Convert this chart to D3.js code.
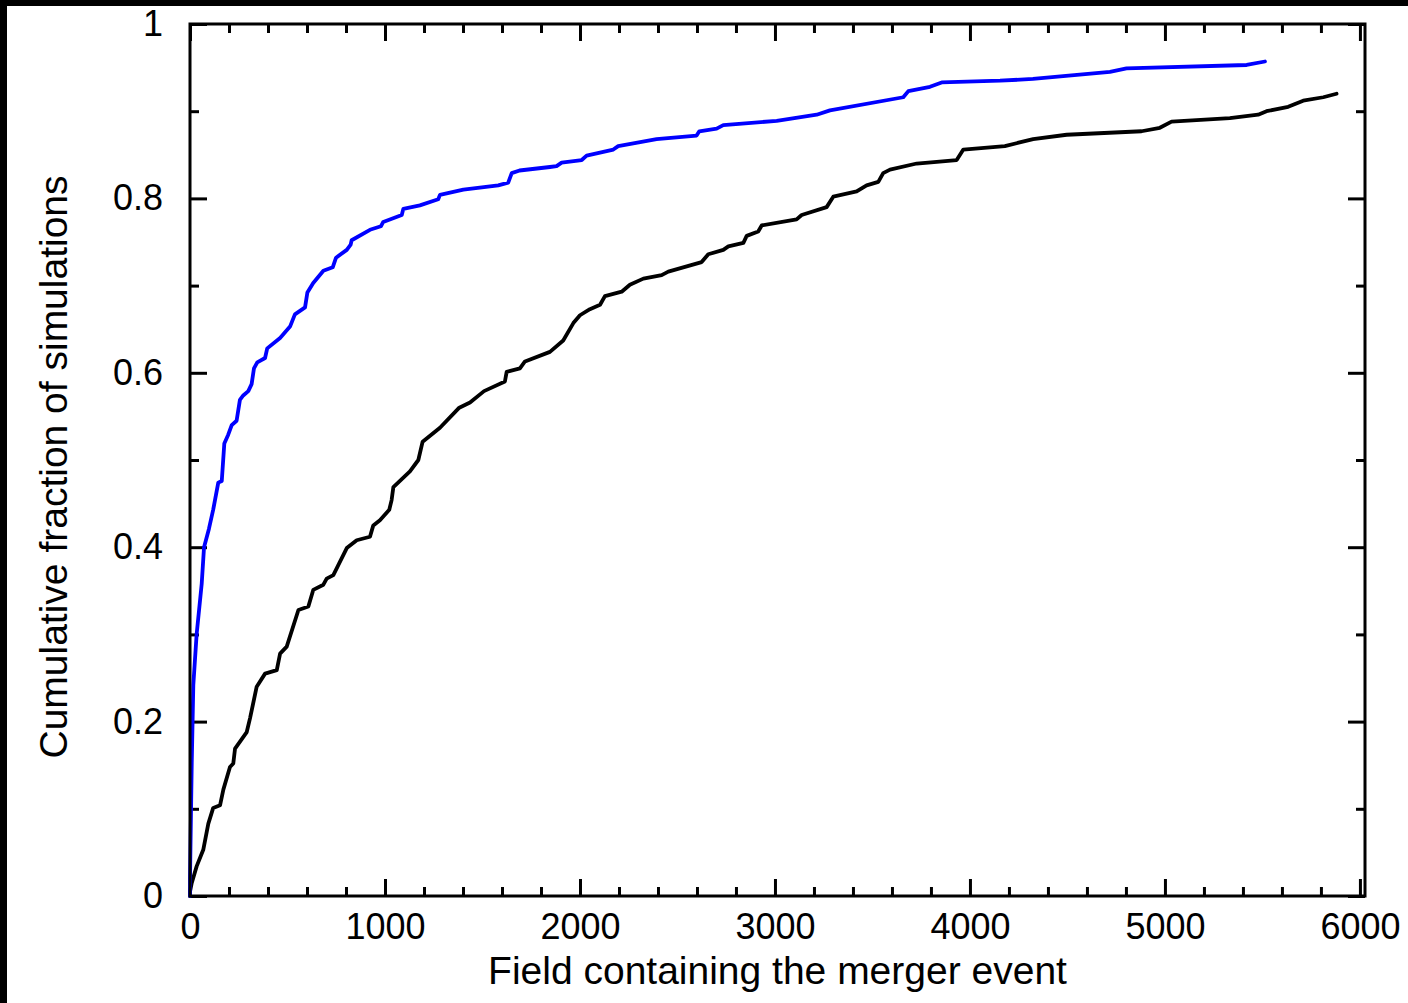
<!DOCTYPE html>
<html>
<head>
<meta charset="utf-8">
<script src="https://cdn.jsdelivr.net/npm/d3@7"></script>
<style>
  html, body { margin: 0; padding: 0; background: #fff; }
  svg { display: block; }
  text { font-family: "Liberation Sans", Arial, Helvetica, sans-serif; fill: #000; }
</style>
</head>
<body>
<svg id="chart" width="1408" height="1003"></svg>
<script>
// ---- data ----
const blueX = [0, 0, 9, 17, 34, 60, 72, 97, 119, 145, 163, 176, 196, 214, 239, 256, 273, 299, 316, 328, 345, 385, 396, 462, 513, 538, 590, 602, 632, 684, 732, 749, 804, 824, 829, 923, 979, 991, 1086, 1094, 1179, 1273, 1282, 1402, 1581, 1632, 1650, 1690, 1846, 1880, 1906, 2009, 2034, 2171, 2196, 2393, 2598, 2612, 2701, 2735, 3009, 3214, 3282, 3658, 3684, 3795, 3855, 4154, 4323, 4718, 4803, 5419, 5513];
const blueY = [0, 0.02, 0.153, 0.242, 0.300, 0.358, 0.400, 0.421, 0.443, 0.474, 0.476, 0.519, 0.529, 0.540, 0.545, 0.569, 0.574, 0.579, 0.587, 0.605, 0.612, 0.617, 0.628, 0.640, 0.653, 0.667, 0.675, 0.692, 0.703, 0.717, 0.721, 0.732, 0.741, 0.747, 0.752, 0.764, 0.768, 0.773, 0.781, 0.788, 0.792, 0.799, 0.804, 0.810, 0.815, 0.818, 0.829, 0.832, 0.836, 0.837, 0.841, 0.844, 0.849, 0.856, 0.860, 0.868, 0.872, 0.877, 0.880, 0.884, 0.889, 0.896, 0.901, 0.916, 0.923, 0.928, 0.933, 0.935, 0.937, 0.945, 0.949, 0.953, 0.957];

const blackX = [0, 0, 9, 34, 68, 94, 119, 154, 171, 205, 222, 231, 291, 308, 342, 385, 445, 462, 496, 556, 607, 632, 684, 701, 735, 804, 855, 923, 940, 974, 1022, 1034, 1043, 1128, 1171, 1193, 1282, 1381, 1436, 1508, 1615, 1624, 1692, 1718, 1846, 1914, 1966, 2000, 2051, 2103, 2128, 2214, 2256, 2325, 2419, 2453, 2624, 2658, 2735, 2761, 2838, 2855, 2914, 2932, 3111, 3137, 3265, 3299, 3419, 3470, 3530, 3555, 3590, 3727, 3932, 3966, 4179, 4324, 4496, 4880, 4974, 5034, 5333, 5478, 5521, 5632, 5709, 5812, 5880];
const blackY = [0, 0.005, 0.015, 0.034, 0.053, 0.083, 0.101, 0.104, 0.122, 0.148, 0.152, 0.169, 0.188, 0.204, 0.240, 0.255, 0.259, 0.278, 0.286, 0.328, 0.332, 0.351, 0.357, 0.364, 0.368, 0.399, 0.408, 0.412, 0.425, 0.431, 0.443, 0.454, 0.469, 0.487, 0.500, 0.521, 0.537, 0.560, 0.566, 0.579, 0.590, 0.601, 0.605, 0.613, 0.624, 0.637, 0.657, 0.666, 0.673, 0.678, 0.688, 0.693, 0.701, 0.708, 0.712, 0.716, 0.727, 0.736, 0.741, 0.745, 0.749, 0.757, 0.762, 0.769, 0.776, 0.781, 0.790, 0.802, 0.808, 0.815, 0.819, 0.829, 0.833, 0.840, 0.844, 0.856, 0.860, 0.868, 0.873, 0.877, 0.881, 0.888, 0.892, 0.896, 0.900, 0.905, 0.912, 0.916, 0.920];

const xMajorTicks = [0, 1000, 2000, 3000, 4000, 5000, 6000];
const xMinorTicks = [200, 400, 600, 800, 1200, 1400, 1600, 1800, 2200, 2400, 2600, 2800, 3200, 3400, 3600, 3800, 4200, 4400, 4600, 4800, 5200, 5400, 5600, 5800];
const yMajorTicks = [0, 0.2, 0.4, 0.6, 0.8, 1];
const yTickLabels = ["0", "0.2", "0.4", "0.6", "0.8", "1"];
const yMinorTicks = [0.1, 0.3, 0.5, 0.7, 0.9];
const xTitle = "Field containing the merger event";
const yTitle = "Cumulative fraction of simulations";

// ---- layout ----
const L = 190, R = 1365, T = 24, B = 896;
const svg = d3.select("#chart");

// black edge strips seen in the reference
svg.append("rect").attr("x", 0).attr("y", 0).attr("width", 1408).attr("height", 6).attr("fill", "#000");
svg.append("rect").attr("x", 0).attr("y", 0).attr("width", 7).attr("height", 1003).attr("fill", "#000");

const x = d3.scaleLinear().domain([0, 6026]).range([L, R]);
const y = d3.scaleLinear().domain([0, 1]).range([B, T]);

const MAJ = 17, MIN = 9, SW = 3;

function styleAxis(g) {
  g.select(".domain").remove();
  g.selectAll(".tick line").attr("stroke", "#000").attr("stroke-width", SW);
  g.selectAll(".tick text").attr("font-size", 36).attr("fill", "#000");
}

// bottom major + labels
svg.append("g").attr("transform", `translate(0,${B})`)
  .call(d3.axisBottom(x).tickValues(xMajorTicks).tickSize(-MAJ).tickPadding(17).tickFormat(d3.format("d")))
  .call(styleAxis);
svg.append("g").attr("transform", `translate(0,${B})`)
  .call(d3.axisBottom(x).tickValues(xMinorTicks).tickSize(-MIN).tickFormat(""))
  .call(styleAxis);
// top ticks
svg.append("g").attr("transform", `translate(0,${T})`)
  .call(d3.axisTop(x).tickValues(xMajorTicks).tickSize(-MAJ).tickFormat(""))
  .call(styleAxis);
svg.append("g").attr("transform", `translate(0,${T})`)
  .call(d3.axisTop(x).tickValues(xMinorTicks).tickSize(-MIN).tickFormat(""))
  .call(styleAxis);
// left major + labels
svg.append("g").attr("transform", `translate(${L},0)`)
  .call(d3.axisLeft(y).tickValues(yMajorTicks).tickSize(-MAJ).tickPadding(27)
    .tickFormat((d, i) => yTickLabels[i]))
  .call(styleAxis);
svg.append("g").attr("transform", `translate(${L},0)`)
  .call(d3.axisLeft(y).tickValues(yMinorTicks).tickSize(-MIN).tickFormat(""))
  .call(styleAxis);
// right ticks
svg.append("g").attr("transform", `translate(${R},0)`)
  .call(d3.axisRight(y).tickValues(yMajorTicks).tickSize(-MAJ).tickFormat(""))
  .call(styleAxis);
svg.append("g").attr("transform", `translate(${R},0)`)
  .call(d3.axisRight(y).tickValues(yMinorTicks).tickSize(-MIN).tickFormat(""))
  .call(styleAxis);

// curves
const line = d3.line().x(d => x(d[0])).y(d => y(d[1]));
const blackData = blackX.map((v, i) => [v, blackY[i]]);
const blueData = blueX.map((v, i) => [v, blueY[i]]);

svg.append("path").datum(blackData).attr("d", line)
  .attr("fill", "none").attr("stroke", "#000").attr("stroke-width", 3.8)
  .attr("stroke-linejoin", "round").attr("stroke-linecap", "round");
svg.append("path").datum(blueData).attr("d", line)
  .attr("fill", "none").attr("stroke", "#0000ff").attr("stroke-width", 3.8)
  .attr("stroke-linejoin", "round").attr("stroke-linecap", "round");

// frame
svg.append("rect").attr("x", L).attr("y", T).attr("width", R - L).attr("height", B - T)
  .attr("fill", "none").attr("stroke", "#000").attr("stroke-width", SW);

// titles
svg.append("text").attr("x", (L + R) / 2).attr("y", 984).attr("text-anchor", "middle")
  .attr("font-size", 39).text(xTitle);
svg.append("text").attr("transform", `translate(67,${(T + B) / 2 + 7}) rotate(-90)`)
  .attr("text-anchor", "middle").attr("font-size", 39).text(yTitle);
</script>
</body>
</html>
